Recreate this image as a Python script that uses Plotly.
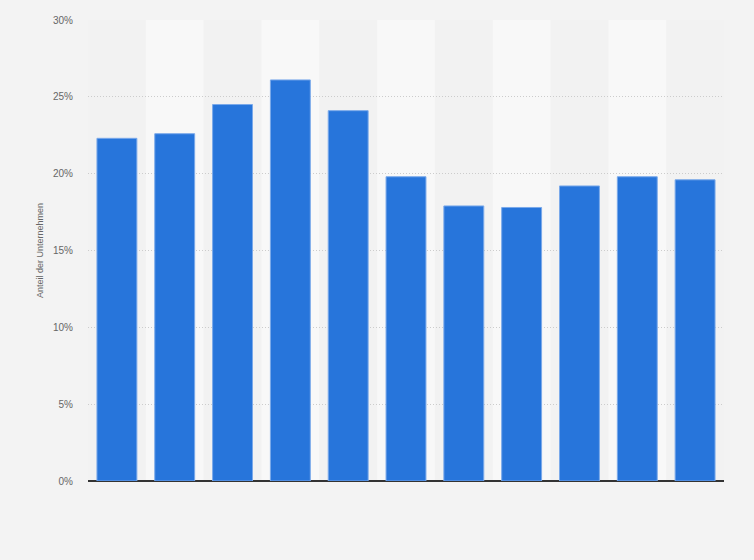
import plotly.graph_objects as go

# bar categories (x labels are hidden in the original)
categories = ["2011", "2012", "2013", "2014", "2015", "2016",
              "2017", "2018", "2019", "2020", "2021"]
shares = [22.3, 22.6, 24.5, 26.1, 24.1, 19.8, 17.9, 17.8, 19.2, 19.8, 19.6]
y_ticks = [0, 5, 10, 15, 20, 25, 30]
y_tick_labels = ["0%", "5%", "10%", "15%", "20%", "25%", "30%"]

fig = go.Figure()
fig.add_trace(go.Bar(
    x=categories, y=shares,
    marker=dict(color="#2775db", line=dict(color="#7aa9ea", width=1)),
    hoverinfo="x+y",
))

# alternating column bands
shapes = []
for i in range(len(categories)):
    if i % 2 == 1:
        shapes.append(dict(type="rect", xref="x", yref="y",
                           x0=i - 0.5, x1=i + 0.5, y0=0, y1=30,
                           fillcolor="#f8f8f8", line=dict(width=0),
                           layer="below"))

fig.update_layout(
    width=754, height=560,
    margin=dict(l=88, r=30, t=20, b=79),
    paper_bgcolor="#f3f3f3", plot_bgcolor="#f2f2f2",
    bargap=0.31,
    showlegend=False,
    shapes=shapes,
    font=dict(family="Arial, Liberation Sans, sans-serif", size=10, color="#666666"),
)
fig.update_xaxes(
    showticklabels=False, showgrid=False, zeroline=False,
    showline=False,
)
fig.update_yaxes(
    range=[0, 30], tickvals=y_ticks, ticktext=y_tick_labels,
    showgrid=True, gridcolor="#cccccc", griddash="1px,2px", gridwidth=1,
    zeroline=True, zerolinecolor="#333333", zerolinewidth=1.5,
    ticklabelstandoff=14,
    tickfont=dict(size=10, color="#666666"),
    title=dict(text="Anteil der Unternehmen", standoff=7,
               font=dict(size=9, color="#666666")),
)

# drop the default page margin so the chart sits flush like the original
fig.write_html("out.html",
               config={"displayModeBar": False},
               post_script="document.body.style.margin='0';"
                           "document.body.style.background='#f3f3f3';")
